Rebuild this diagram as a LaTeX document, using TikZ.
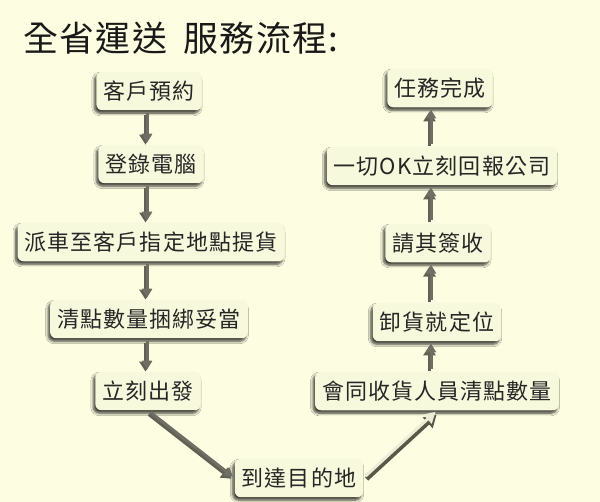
\documentclass[tikz,border=0pt]{standalone}
\usepackage{fontspec}
\newfontfamily\cjk{Noto Sans CJK TC}[LetterSpace=5]
\newfontfamily\cjktitle{Noto Sans CJK TC}[LetterSpace=4]
\usetikzlibrary{shadows.blur,arrows.meta}
\definecolor{bg}{HTML}{FDFDE1}
\definecolor{boxfill}{HTML}{F7F9DC}
\definecolor{shad}{HTML}{3A3A28}
\definecolor{arrowc}{HTML}{6E6E64}
\definecolor{arrowlight}{HTML}{EDEDD5}
\begin{document}
\begin{tikzpicture}[x=1pt,y=-1pt,
  box/.style={rounded corners=6pt, fill=boxfill, inner xsep=7pt, inner ysep=9pt,
    font=\cjk\fontsize{22}{22}\selectfont, text=black!85,
    blur shadow={shadow xshift=-2pt, shadow yshift=-3pt, shadow blur steps=6,
      shadow opacity=75, shadow blur radius=2.5pt}},
  flow/.style={line width=3pt, draw=arrowc, -{Triangle[length=9pt,width=10pt]},
    shorten <=3pt, shorten >=2pt},
  flowlight/.style={line width=3pt, draw=arrowlight, -{Triangle[length=11pt,width=12pt]},
    shorten <=3pt, shorten >=2pt},
  flowshadow/.style={line width=3.5pt, draw=shad!80, -{Triangle[length=10pt,width=12pt]},
    shorten <=3pt, shorten >=2pt, transform canvas={xshift=-1.5pt,yshift=-2pt}},
  lightshadow/.style={line width=4.5pt, draw=shad!85, -{Triangle[length=12pt,width=14pt]},
    shorten <=3pt, shorten >=2pt, transform canvas={xshift=1pt,yshift=-3pt}},
  title/.style={anchor=west, font=\cjktitle\fontsize{35}{35}\selectfont, inner sep=0pt, text=black!90}]
\fill[bg] (0,0) rectangle (600,502);
\useasboundingbox (0,0) rectangle (600,502);

\node[title] (t) at (23,38) {全省運送\hspace{16pt}服務流程:};

% left column
\node[box] (a1) at (149,91) {客戶預約};
\node[box] (a2) at (151,164) {登錄電腦};
\node[box] (a3) at (151,242) {派車至客戶指定地點提貨};
\node[box] (a4) at (149,319) {清點數量捆綁妥當};
\node[box] (a5) at (148,391) {立刻出發};
% bottom
\node[box] (b) at (299,478) {到達目的地};
% right column
\node[box] (c1) at (437,391) {會同收貨人員清點數量};
\node[box] (c2) at (437,322) {卸貨就定位};
\node[box] (c3) at (438,243) {請其簽收};
\node[box] (c4) at (442,166) {一切OK立刻回報公司};
\node[box] (c5) at (440,88) {任務完成};

\coordinate (lx) at (147,0);
\coordinate (rx) at (431,0);

% left arrows
\foreach \u/\v in {a1/a2,a2/a3,a3/a4,a4/a5}{
  \draw[flowshadow] (\u.south -| lx) -- (\v.north -| lx);
  \draw[flow] (\u.south -| lx) -- (\v.north -| lx);
}
\draw[flowshadow] (a5.south) -- (b.west);
\draw[flow] (a5.south) -- (b.west);
% up-right arrow
\draw[lightshadow] (b.east) -- (c1.south);
\draw[flowlight] (b.east) -- (c1.south);
% right arrows
\foreach \u/\v in {c1/c2,c2/c3,c3/c4,c4/c5}{
  \draw[flowshadow] (\u.north -| rx) -- (\v.south -| rx);
  \draw[flow] (\u.north -| rx) -- (\v.south -| rx);
}
\end{tikzpicture}
\end{document}
